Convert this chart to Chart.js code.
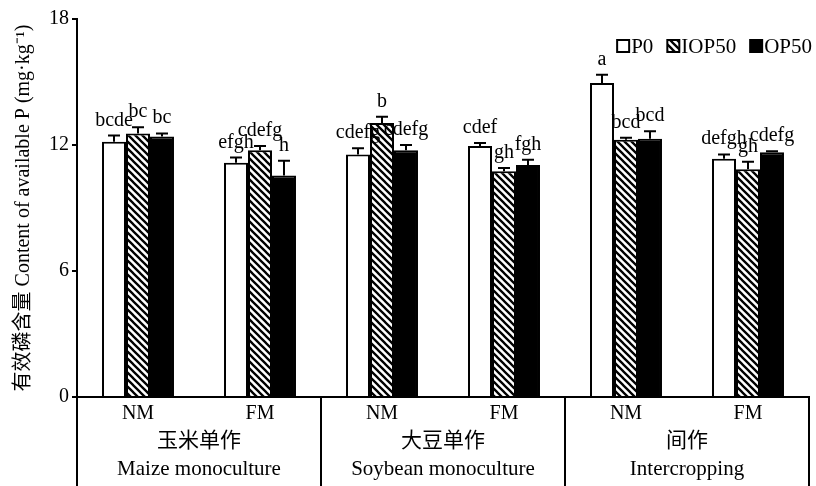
<!DOCTYPE html>
<html>
<head>
<meta charset="utf-8">
<script src="https://cdn.jsdelivr.net/npm/chart.js@4"></script>
<style>
  body { margin: 0; background: #fff; }
  canvas { display: block; }
</style>
</head>
<body>
<canvas id="grafico" width="816" height="486"></canvas>
<script>
// datos
let categorias = ['NM', 'FM', 'NM', 'FM', 'NM', 'FM']
let grupos = [
    ['玉米单作', 'Maize monoculture'],
    ['大豆单作', 'Soybean monoculture'],
    ['间作', 'Intercropping']
]
let series = ['P0', 'IOP50', 'OP50']

let p0 = [12.15, 11.15, 11.55, 11.95, 14.95, 11.35]
let iop50 = [12.55, 11.75, 13.05, 10.75, 12.25, 10.85]
let op50 = [12.4, 10.55, 11.75, 11.05, 12.3, 11.65]

let p0_err = [0.3, 0.25, 0.3, 0.15, 0.4, 0.2]
let iop50_err = [0.3, 0.2, 0.3, 0.15, 0.1, 0.35]
let op50_err = [0.15, 0.7, 0.25, 0.25, 0.35, 0.05]

let p0_sig = ['bcde', 'efgh', 'cdefg', 'cdef', 'a', 'defgh']
let iop50_sig = ['bc', 'cdefg', 'b', 'gh', 'bcd', 'gh']
let op50_sig = ['bc', 'h', 'cdefg', 'fgh', 'bcd', 'cdefg']

let y_ticks = [0, 6, 12, 18]

let fuente = '"Liberation Serif", "Noto Sans CJK SC", serif'


function rayado(){
    let c = document.createElement('canvas')
    c.width = 7
    c.height = 7
    let g = c.getContext('2d')
    g.fillStyle = '#fff'
    g.fillRect(0, 0, 7, 7)
    g.strokeStyle = '#000'
    g.lineWidth = 2.3
    g.beginPath()
    g.moveTo(-1, -1); g.lineTo(8, 8)
    g.moveTo(-1, 6); g.lineTo(1, 8)
    g.moveTo(6, -1); g.lineTo(8, 1)
    g.stroke()
    return g.createPattern(c, 'repeat')
}

let patron = rayado()
let rellenos = ['#ffffff', patron, '#000000']
let errores = [p0_err, iop50_err, op50_err]
let letras = [p0_sig, iop50_sig, op50_sig]


// barras de error + letras
let plugin_errores = {
    id: 'errores',
    afterDatasetsDraw(chart){
        let ctx = chart.ctx
        let y = chart.scales.y
        ctx.save()
        chart.data.datasets.forEach((ds, i) => {
            let meta = chart.getDatasetMeta(i)
            meta.data.forEach((bar, j) => {
                let tope = y.getPixelForValue(ds.data[j] + errores[i][j])
                ctx.strokeStyle = '#000'
                ctx.lineWidth = 2
                ctx.beginPath()
                ctx.moveTo(bar.x, bar.y)
                ctx.lineTo(bar.x, tope)
                ctx.moveTo(bar.x - 6, tope)
                ctx.lineTo(bar.x + 6, tope)
                ctx.stroke()
                ctx.fillStyle = '#000'
                ctx.font = '20px ' + fuente
                ctx.textAlign = 'center'
                ctx.textBaseline = 'alphabetic'
                ctx.fillText(letras[i][j], bar.x, tope - 10)
            })
        })
        ctx.restore()
    }
}


// caja inferior, grupos y leyenda
let plugin_marco = {
    id: 'marco',
    afterDraw(chart){
        let ctx = chart.ctx
        let area = chart.chartArea
        let x = chart.scales.x
        let alto = chart.height
        ctx.save()
        ctx.strokeStyle = '#000'
        ctx.lineWidth = 2
        ctx.beginPath()
        ctx.moveTo(area.left, area.bottom)
        ctx.lineTo(area.left, alto)
        ctx.moveTo(area.right, area.bottom)
        ctx.lineTo(area.right, alto)
        for (let k = 1; k < grupos.length; k++) {
            let sep = (x.getPixelForValue(2 * k - 1) + x.getPixelForValue(2 * k)) / 2
            ctx.moveTo(sep, area.bottom)
            ctx.lineTo(sep, alto)
        }
        ctx.stroke()

        ctx.fillStyle = '#000'
        ctx.textAlign = 'center'
        ctx.textBaseline = 'middle'
        ctx.font = '21px ' + fuente
        grupos.forEach((g, k) => {
            let cx = (x.getPixelForValue(2 * k) + x.getPixelForValue(2 * k + 1)) / 2
            ctx.fillText(g[0], cx, 441)
            ctx.fillText(g[1], cx, 469)
        })

        // leyenda, alineada a la derecha
        ctx.font = '21px ' + fuente
        ctx.textAlign = 'left'
        let anchos = series.map(s => 14 + ctx.measureText(s).width)
        let total = anchos.reduce((a, b) => a + b, 0) + 14 * (series.length - 1)
        let lx = 812 - total
        let ly = 46
        series.forEach((s, i) => {
            ctx.fillStyle = rellenos[i]
            ctx.fillRect(lx, ly - 6, 12, 12)
            ctx.lineWidth = 2
            ctx.strokeRect(lx, ly - 6, 12, 12)
            ctx.fillStyle = '#000'
            ctx.fillText(s, lx + 14, ly + 1)
            lx += anchos[i] + 14
        })
        ctx.restore()
    }
}


let configuracion = {
    type: 'bar',
    data: {
        labels: categorias,
        datasets: [
            { label: series[0], data: p0, backgroundColor: rellenos[0], borderColor: '#000', borderWidth: 2 },
            { label: series[1], data: iop50, backgroundColor: rellenos[1], borderColor: '#000', borderWidth: 2 },
            { label: series[2], data: op50, backgroundColor: rellenos[2], borderColor: '#000', borderWidth: 2 },
        ]
    },
    options: {
        responsive: false,
        animation: false,
        devicePixelRatio: 1,
        layout: { padding: { top: 19, right: 7, left: 0, bottom: 0 } },
        datasets: { bar: { categoryPercentage: 0.59, barPercentage: 1 } },
        plugins: {
            legend: { display: false },
            tooltip: { enabled: false }
        },
        scales: {
            x: {
                grid: { display: false },
                border: { display: true, color: '#000', width: 2 },
                ticks: { color: '#000', font: { family: fuente, size: 20 }, padding: -3, maxRotation: 0 },
                afterFit(scale){ scale.height = 89 }
            },
            y: {
                min: 0,
                max: 18,
                afterBuildTicks(scale){ scale.ticks = y_ticks.map(v => ({ value: v })) },
                grid: { display: true, drawOnChartArea: false, drawTicks: true, tickLength: 5, color: '#000', lineWidth: 2 },
                border: { display: true, color: '#000', width: 2 },
                ticks: { color: '#000', font: { family: fuente, size: 20 }, padding: 3 },
                title: {
                    display: true,
                    text: '有效磷含量 Content of available P (mg·kg⁻¹)',
                    color: '#000',
                    font: { family: fuente, size: 20 },
                    padding: { top: 12, bottom: 0 }
                },
                afterFit(scale){ scale.width = 77 }
            }
        }
    },
    plugins: [plugin_errores, plugin_marco]
}

var grafico = new Chart(document.getElementById('grafico').getContext('2d'), configuracion)
</script>
</body>
</html>
